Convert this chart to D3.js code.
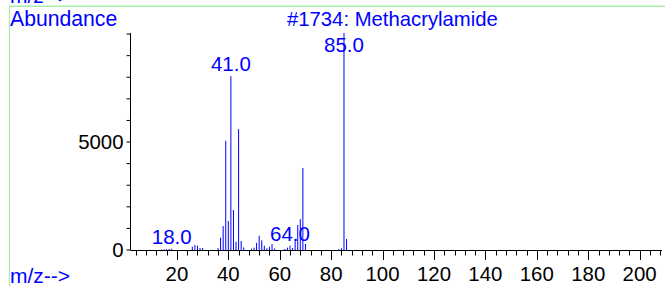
<!DOCTYPE html>
<html><head><meta charset="utf-8">
<script src="https://cdn.jsdelivr.net/npm/d3@7"></script>
<style>
html,body{margin:0;padding:0;background:#fff;}
svg{display:block;font-family:"Liberation Sans",Arial,sans-serif;}
</style></head>
<body>
<svg id="c" width="665" height="287"></svg>
<script>
const title = "#1734: Methacrylamide";
const mz =     [14,15,16,17,18,26,27,28,29,30,36,37,38,39,40,41,42,43,44,45,46,49,50,51,52,53,54,55,56,57,58,62,63,64,65,66,67,68,69,70,83,84,85,86];
const abund =  [20,30,40,45,60,150,230,200,90,90,90,570,1110,5060,1340,8050,1850,380,5600,415,120,60,110,330,660,450,200,80,150,280,70,50,110,200,90,480,1160,1430,3800,280,40,80,10050,510];
const labelMz = [18,41,64,85];
const labelText = ["18.0","41.0","64.0","85.0"];
const xTickLabels = [20,40,60,80,100,120,140,160,180,200];
const yTickLabels = [0,5000];

const svg = d3.select("#c");
const blue = "#0000ff";
const x = d3.scaleLinear().domain([1.95, 208.7]).range([130.5, 662]);
const y = d3.scaleLinear().domain([0, 10050]).range([250, 33]);

// frame
svg.append("line").attr("x1",9.5).attr("x2",665).attr("y1",6.3).attr("y2",6.3)
  .attr("stroke","#a8eea8").attr("stroke-width",1.6);
svg.append("line").attr("x1",9.5).attr("x2",9.5).attr("y1",6).attr("y2",287)
  .attr("stroke","#a8eea8").attr("stroke-width",1.2);

svg.append("text").attr("x",10).attr("y",3).attr("fill",blue).attr("font-size",21).text("m/z-->");
svg.append("text").attr("x",10).attr("y",26).attr("fill",blue).attr("font-size",21.2).text("Abundance");
svg.append("text").attr("x",287).attr("y",26).attr("fill",blue).attr("font-size",20.3).text(title);
svg.append("text").attr("x",10).attr("y",283).attr("fill",blue).attr("font-size",21).text("m/z-->");

// axes
const gy = svg.append("g").attr("transform","translate(130.5,0)");
gy.append("line").attr("y1",y(0)).attr("y2",33).attr("stroke","#000");
gy.selectAll(".mt").data(d3.range(0,10001,1000)).join("line")
  .attr("x1",-4).attr("x2",0).attr("y1",d=>y(d)).attr("y2",d=>y(d)).attr("stroke","#000");
gy.selectAll(".yl").data(yTickLabels).join("text")
  .attr("x",-7).attr("y",d=>y(d)).attr("dy","0.35em").attr("text-anchor","end")
  .attr("font-size",20.4).attr("fill","#000").text(d=>d);

const gx = svg.append("g");
gx.append("line").attr("x1",130.5).attr("x2",662).attr("y1",250.5).attr("y2",250.5).attr("stroke","#000");
gx.selectAll(".xt").data(d3.range(4,209,4)).join("line")
  .attr("x1",d=>Math.round(x(d))+0.5).attr("x2",d=>Math.round(x(d))+0.5)
  .attr("y1",250.5).attr("y2",d=>d%20===0?260:255.5).attr("stroke","#000");
gx.selectAll(".xl").data(xTickLabels).join("text")
  .attr("x",d=>x(d)).attr("y",280.5).attr("text-anchor","middle")
  .attr("font-size",20.4).attr("fill","#000").text(d=>d);

// bars
svg.append("g").selectAll("line").data(mz).join("line")
  .attr("x1",d=>x(d)).attr("x2",d=>x(d))
  .attr("y1",y(0)).attr("y2",(d,i)=>y(abund[i]))
  .attr("stroke",blue).attr("stroke-width",1);

// peak labels
svg.append("g").selectAll("text").data(labelMz).join("text")
  .attr("x",d=>x(d)).attr("text-anchor","middle")
  .attr("y",d=>Math.max(y(abund[mz.indexOf(d)])-5,52))
  .attr("font-size",20.5).attr("fill",blue).text((d,i)=>labelText[i]);
</script>
</body></html>
